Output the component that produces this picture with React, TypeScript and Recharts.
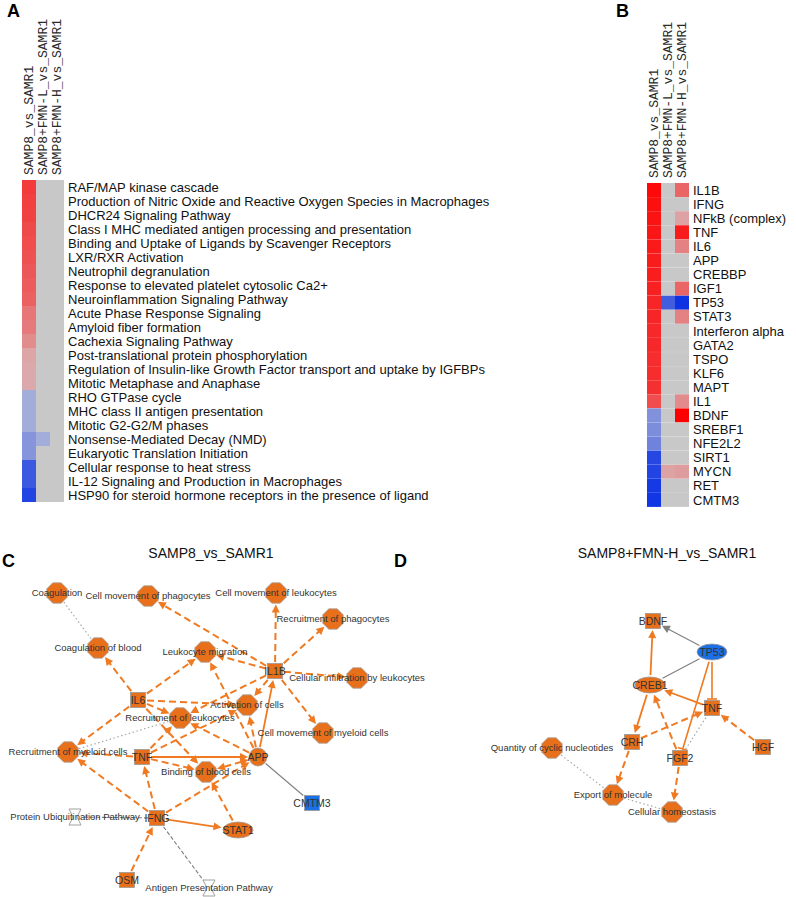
import React from 'react';
import { BarChart, Bar, XAxis, YAxis, Cell, ScatterChart, Scatter, ReferenceLine } from 'recharts';

const FONT = 'Arial, "Liberation Sans", sans-serif';
const MONO = '"Liberation Mono", "DejaVu Sans Mono", monospace';

// ---------- Panel A data ----------
const comparisons = ['SAMP8_vs_SAMR1', 'SAMP8+FMN-L_vs_SAMR1', 'SAMP8+FMN-H_vs_SAMR1'];

const pathwaysA = [
  'RAF/MAP kinase cascade',
  'Production of Nitric Oxide and Reactive Oxygen Species in Macrophages',
  'DHCR24 Signaling Pathway',
  'Class I MHC mediated antigen processing and presentation',
  'Binding and Uptake of Ligands by Scavenger Receptors',
  'LXR/RXR Activation',
  'Neutrophil degranulation',
  'Response to elevated platelet cytosolic Ca2+',
  'Neuroinflammation Signaling Pathway',
  'Acute Phase Response Signaling',
  'Amyloid fiber formation',
  'Cachexia Signaling Pathway',
  'Post-translational protein phosphorylation',
  'Regulation of Insulin-like Growth Factor transport and uptake by IGFBPs',
  'Mitotic Metaphase and Anaphase',
  'RHO GTPase cycle',
  'MHC class II antigen presentation',
  'Mitotic G2-G2/M phases',
  'Nonsense-Mediated Decay (NMD)',
  'Eukaryotic Translation Initiation',
  'Cellular response to heat stress',
  'IL-12 Signaling and Production in Macrophages',
  'HSP90 for steroid hormone receptors in the presence of ligand',
];
const zA1 = [0.68, 0.66, 0.64, 0.6, 0.58, 0.56, 0.52, 0.5, 0.48, 0.36, 0.34, 0.24, 0.1, 0.08, 0.08,
  -0.05, -0.05, -0.05, -0.22, -0.22, -0.66, -0.66, -0.8];
const zA2: (number | null)[] = [null, null, null, null, null, null, null, null, null, null, null, null, null,
  null, null, null, null, null, -0.05, null, null, null, null];
const zA3: (number | null)[] = pathwaysA.map(() => null);

// ---------- Panel B data ----------
const regulatorsB = ['IL1B', 'IFNG', 'NFkB (complex)', 'TNF', 'IL6', 'APP', 'CREBBP', 'IGF1', 'TP53', 'STAT3',
  'Interferon alpha', 'GATA2', 'TSPO', 'KLF6', 'MAPT', 'IL1', 'BDNF', 'SREBF1', 'NFE2L2', 'SIRT1', 'MYCN', 'RET', 'CMTM3'];
const zB1 = [0.95, 0.92, 0.9, 0.88, 0.86, 0.85, 0.84, 0.82, 0.8, 0.8, 0.78, 0.78, 0.76, 0.76, 0.74, 0.58,
  -0.25, -0.28, -0.35, -0.78, -0.8, -0.88, -0.9];
const zB2: (number | null)[] = [null, null, null, null, null, null, null, null, -0.62, null, null, null, null, null,
  null, null, null, null, null, null, 0.12, null, null];
const zB3: (number | null)[] = [0.45, null, 0.12, 0.85, 0.3, null, null, 0.45, -0.92, 0.3, null, null, null, null,
  null, 0.25, 1.0, null, null, null, 0.15, null, null];

// ---------- Panel C network ----------
type NodeT = { id: string; label: string; x: number; y: number; shape: string; ldx?: number };
type EdgeT = [string, string, string];

const nodesC: NodeT[] = [
  { id: 'coag', label: 'Coagulation', x: 57, y: 53, shape: 'oct' },
  { id: 'cmp', label: 'Cell movement of phagocytes', x: 148, y: 56, shape: 'oct' },
  { id: 'cml', label: 'Cell movement of leukocytes', x: 276, y: 53, shape: 'oct' },
  { id: 'rp', label: 'Recruitment of phagocytes', x: 333, y: 79, shape: 'oct' },
  { id: 'cob', label: 'Coagulation of blood', x: 98, y: 108, shape: 'oct' },
  { id: 'lm', label: 'Leukocyte migration', x: 205, y: 112, shape: 'oct' },
  { id: 'il1b', label: 'IL1B', x: 275, y: 131, shape: 'sq' },
  { id: 'ci', label: 'Cellular infiltration by leukocytes', x: 357, y: 138, shape: 'oct', ldx: 0 },
  { id: 'il6', label: 'IL6', x: 138, y: 160, shape: 'sq' },
  { id: 'ac', label: 'Activation of cells', x: 247, y: 165, shape: 'oct' },
  { id: 'rl', label: 'Recruitment of leukocytes', x: 180, y: 178, shape: 'oct' },
  { id: 'cmm', label: 'Cell movement of myeloid cells', x: 323, y: 193, shape: 'oct' },
  { id: 'rmc', label: 'Recruitment of myeloid cells', x: 68, y: 212, shape: 'oct' },
  { id: 'tnf', label: 'TNF', x: 142, y: 217, shape: 'sq' },
  { id: 'app', label: 'APP', x: 258, y: 217, shape: 'circ' },
  { id: 'bbc', label: 'Binding of blood cells', x: 206, y: 232, shape: 'oct' },
  { id: 'cmtm3', label: 'CMTM3', x: 312, y: 263, shape: 'sqb' },
  { id: 'pup', label: 'Protein Ubiquitination Pathway', x: 75, y: 277, shape: 'hg' },
  { id: 'ifng', label: 'IFNG', x: 157, y: 278, shape: 'sq' },
  { id: 'stat1', label: 'STAT1', x: 238, y: 290, shape: 'ell' },
  { id: 'osm', label: 'OSM', x: 127, y: 340, shape: 'sq' },
  { id: 'app2', label: 'Antigen Presentation Pathway', x: 209, y: 348, shape: 'hg' },
];
const edgesC: EdgeT[] = [
  ['il1b', 'cmp', 'd'], ['il1b', 'cml', 'd'], ['il1b', 'rp', 'd'], ['il1b', 'lm', 'd'], ['il1b', 'ci', 'd'],
  ['il1b', 'ac', 'd'], ['il1b', 'rl', 'd'], ['il1b', 'cmm', 'd'], ['app', 'il1b', 's'],
  ['il6', 'cob', 'd'], ['il6', 'lm', 'd'], ['il6', 'ac', 'd'], ['il6', 'rl', 'd'], ['il6', 'rmc', 'd'], ['il6', 'bbc', 'd'],
  ['coag', 'cob', 'dot'], ['rmc', 'rl', 'dot'],
  ['tnf', 'rmc', 'd'], ['tnf', 'app', 's'], ['tnf', 'rl', 'd'], ['tnf', 'ac', 'd'], ['tnf', 'bbc', 'd'],
  ['app', 'lm', 'd'], ['app', 'ac', 'd'], ['app', 'rl', 'd'], ['app', 'bbc', 'dd'], ['app', 'cmtm3', 'g'],
  ['ifng', 'tnf', 'd'], ['ifng', 'rmc', 'd'], ['ifng', 'app', 'd'], ['ifng', 'stat1', 's'],
  ['ifng', 'pup', 'gd'], ['ifng', 'app2', 'gd'], ['osm', 'ifng', 'd'], ['stat1', 'bbc', 'd'],
];

// ---------- Panel D network ----------
const nodesD: NodeT[] = [
  { id: 'bdnf', label: 'BDNF', x: 263, y: 81, shape: 'sq' },
  { id: 'tp53', label: 'TP53', x: 322, y: 112, shape: 'ellb' },
  { id: 'creb1', label: 'CREB1', x: 260, y: 145, shape: 'ell' },
  { id: 'tnf', label: 'TNF', x: 322, y: 168, shape: 'sq' },
  { id: 'hgf', label: 'HGF', x: 373, y: 207, shape: 'sq' },
  { id: 'crh', label: 'CRH', x: 242, y: 202, shape: 'sq' },
  { id: 'fgf2', label: 'FGF2', x: 290, y: 218, shape: 'sq' },
  { id: 'qcn', label: 'Quantity of cyclic nucleotides', x: 162, y: 208, shape: 'oct' },
  { id: 'eom', label: 'Export of molecule', x: 223, y: 255, shape: 'oct' },
  { id: 'ch', label: 'Cellular homeostasis', x: 282, y: 272, shape: 'oct' },
];
const edgesD: EdgeT[] = [
  ['creb1', 'bdnf', 's'], ['tp53', 'bdnf', 'ga'], ['tp53', 'creb1', 'g'], ['tp53', 'tnf', 'i'], ['tp53', 'fgf2', 'i'],
  ['tnf', 'creb1', 's'], ['creb1', 'crh', 's'], ['crh', 'tnf', 'd'], ['fgf2', 'creb1', 'd'], ['hgf', 'tnf', 'd'],
  ['crh', 'eom', 'd'], ['fgf2', 'ch', 'd'], ['fgf2', 'tnf', 'dot'], ['qcn', 'eom', 'dot'], ['eom', 'ch', 'dot'],
];

// ---------- helpers ----------
const GRAY = '#c8c8c8';
const ORANGE = '#e8701a';
const EDGE_ORANGE = '#ef7a22';
const BLUE = '#1c6fe4';

function heatColor(z: number | null): string {
  if (z === null || z === undefined) return GRAY;
  if (z >= 0) {
    const t = Math.min(1, z);
    const r = 216 + (255 - 216) * t, g = 184 * (1 - t), b = 186 * (1 - t);
    return `rgb(${Math.round(r)},${Math.round(g)},${Math.round(b)})`;
  }
  const t = Math.min(1, -z);
  const r = 172 * (1 - t), g = 180 + (40 - 180) * t, b = 216 + (228 - 216) * t;
  return `rgb(${Math.round(r)},${Math.round(g)},${Math.round(b)})`;
}

const ColTick = (props: any) => {
  const { x, y, payload } = props;
  const label = comparisons[Math.floor(payload.value)];
  const bx = x + 4;
  return (
    <text x={bx} y={y} transform={`rotate(-90 ${bx} ${y})`} textAnchor="start" fontSize={13}
      fontFamily={MONO} fill="#2a2a2a">{label}</text>
  );
};

const RowTick = (props: any) => {
  const { x, y, payload } = props;
  return (
    <text x={x} y={y} dy="0.355em" textAnchor="start" fontSize={13} fontFamily={FONT} fill="#111">
      {payload.value}
    </text>
  );
};

function Heatmap(props: {
  rows: string[]; values: (number | null)[][]; width: number; height: number; marginLeft: number;
  axisHeight: number; marginBottom: number; yAxisWidth: number;
}) {
  const { rows, values, width, height, marginLeft, axisHeight, marginBottom, yAxisWidth } = props;
  const data = rows.map((name) => ({ name, c0: 1, c1: 1, c2: 1 }));
  return (
    <BarChart width={width} height={height} data={data} layout="vertical"
      margin={{ top: 10, left: marginLeft, right: 0, bottom: marginBottom }} barCategoryGap={0} barGap={0}>
      <XAxis type="number" orientation="top" domain={[0, 3]} ticks={[0.5, 1.5, 2.5]} height={axisHeight}
        axisLine={false} tickLine={false} tickSize={0} tickMargin={5} interval={0} tick={<ColTick />} />
      <YAxis type="category" dataKey="name" orientation="right" width={yAxisWidth} axisLine={false}
        tickLine={false} tickSize={0} tickMargin={4} interval={0} tick={<RowTick />} />
      {[0, 1, 2].map((j) => (
        <Bar key={j} dataKey={'c' + j} stackId="s" isAnimationActive={false}>
          {values[j].map((v, i) => <Cell key={i} fill={heatColor(v)} />)}
        </Bar>
      ))}
    </BarChart>
  );
}

function nodeRadius(shape: string, ux: number, uy: number): number {
  switch (shape) {
    case 'oct': return 10.5;
    case 'circ': return 9;
    case 'sq':
    case 'sqb': return 8 / Math.max(Math.abs(ux), Math.abs(uy), 0.0001);
    case 'ell':
    case 'ellb': { const rx = 16, ry = 9; return 1 / Math.sqrt((ux / rx) ** 2 + (uy / ry) ** 2); }
    case 'hg': return 8;
    default: return 9;
  }
}

function makeEdgeShape(kind: string, fromShape: string, toShape: string) {
  return (p: any) => {
    const { x1, y1, x2, y2 } = p;
    const dx = x2 - x1, dy = y2 - y1;
    const len = Math.hypot(dx, dy) || 1;
    const ux = dx / len, uy = dy / len;
    const r1 = nodeRadius(fromShape, ux, uy) + 1;
    const r2 = nodeRadius(toShape, -ux, -uy) + 1;
    let sx = x1 + ux * r1, sy = y1 + uy * r1;
    let ex = x2 - ux * r2, ey = y2 - uy * r2;
    const px = -uy, py = ux;
    const isOrange = ['d', 'dd', 's', 'i'].includes(kind);
    const color = isOrange ? EDGE_ORANGE : kind === 'dot' ? '#a8a8a8' : '#7f7f7f';
    const width = kind === 'd' || kind === 'dd' ? 2 : kind === 's' ? 1.8 : kind === 'i' ? 1.6 : kind === 'dot' ? 1.2 : 1.1;
    const dash = kind === 'd' || kind === 'dd' ? '7 4' : kind === 'dot' ? '1.5 2.5' : kind === 'gd' ? '4 2' : undefined;
    const arrowEnd = ['d', 'dd', 's', 'ga'].includes(kind);
    const arrowStart = kind === 'dd';
    const AL = 8, AW = 4;
    const tipE = { x: ex, y: ey };
    const tipS = { x: sx, y: sy };
    if (arrowEnd) { ex -= ux * (AL - 1); ey -= uy * (AL - 1); }
    if (arrowStart) { sx += ux * (AL - 1); sy += uy * (AL - 1); }
    const arrow = (tx: number, ty: number, dirx: number, diry: number) => {
      const bx = tx - dirx * AL, by = ty - diry * AL;
      const ppx = -diry, ppy = dirx;
      return `${tx},${ty} ${bx + ppx * AW},${by + ppy * AW} ${bx - ppx * AW},${by - ppy * AW}`;
    };
    return (
      <g>
        <line x1={sx} y1={sy} x2={ex} y2={ey} stroke={color} strokeWidth={width} strokeDasharray={dash} />
        {arrowEnd && <polygon points={arrow(tipE.x, tipE.y, ux, uy)} fill={color} />}
        {arrowStart && <polygon points={arrow(tipS.x, tipS.y, -ux, -uy)} fill={color} />}
        {kind === 'i' && (
          <line x1={ex + px * 5} y1={ey + py * 5} x2={ex - px * 5} y2={ey - py * 5} stroke={color} strokeWidth={1.6} />
        )}
      </g>
    );
  };
}

const NodeShape = (props: any) => {
  const { cx, cy, payload } = props;
  const n: NodeT = payload;
  let body: React.ReactNode = null;
  if (n.shape === 'oct') {
    const R = 11;
    const pts = Array.from({ length: 8 }, (_, k) => {
      const a = (Math.PI / 8) + (k * Math.PI) / 4;
      return `${cx + R * Math.cos(a)},${cy + R * Math.sin(a)}`;
    }).join(' ');
    body = <polygon points={pts} fill={ORANGE} stroke="#a0a0a0" strokeWidth={0.8} />;
  } else if (n.shape === 'circ') {
    body = <circle cx={cx} cy={cy} r={9} fill={ORANGE} stroke="#a0a0a0" strokeWidth={0.8} />;
  } else if (n.shape === 'sq' || n.shape === 'sqb') {
    body = <rect x={cx - 7.5} y={cy - 7.5} width={15} height={15} fill={n.shape === 'sqb' ? BLUE : ORANGE}
      stroke="#9a9a9a" strokeWidth={0.8} />;
  } else if (n.shape === 'ell' || n.shape === 'ellb') {
    body = <ellipse cx={cx} cy={cy} rx={15} ry={8} fill={n.shape === 'ellb' ? BLUE : ORANGE}
      stroke="#9a9a9a" strokeWidth={0.8} />;
  } else if (n.shape === 'hg') {
    const pts = `${cx - 6},${cy - 8} ${cx + 6},${cy - 8} ${cx + 2},${cy} ${cx + 6},${cy + 8} ${cx - 6},${cy + 8} ${cx - 2},${cy}`;
    body = <polygon points={pts} fill="#fff" stroke="#a0a0a0" strokeWidth={1} />;
  }
  const isGene = n.shape !== 'oct' && n.shape !== 'hg';
  return (
    <g>
      {body}
      <text x={cx + (n.ldx || 0)} y={cy} dy="0.35em" textAnchor="middle" fontSize={isGene ? 10.5 : 9.5}
        fontFamily={FONT} fill="#333">{n.label}</text>
    </g>
  );
};

function Network(props: { nodes: NodeT[]; edges: EdgeT[]; width: number; height: number }) {
  const { nodes, edges, width, height } = props;
  const byId: Record<string, NodeT> = {};
  nodes.forEach((n) => { byId[n.id] = n; });
  return (
    <ScatterChart width={width} height={height} margin={{ top: 0, right: 0, bottom: 0, left: 0 }}>
      <XAxis type="number" dataKey="x" domain={[0, width]} hide />
      <YAxis type="number" dataKey="y" domain={[0, height]} reversed hide />
      {edges.map(([a, b, kind], i) => {
        const na = byId[a], nb = byId[b];
        return (
          <ReferenceLine key={i} ifOverflow="visible"
            segment={[{ x: na.x, y: na.y }, { x: nb.x, y: nb.y }]}
            shape={makeEdgeShape(kind, na.shape, nb.shape)} />
        );
      })}
      <Scatter data={nodes} isAnimationActive={false} shape={(p: any) => <NodeShape {...p} />} />
    </ScatterChart>
  );
}

const letterStyle: React.CSSProperties = {
  position: 'absolute', fontFamily: FONT, fontWeight: 'bold', fontSize: 18, lineHeight: '20px', color: '#000',
};
const titleStyle: React.CSSProperties = {
  position: 'absolute', fontFamily: FONT, fontSize: 14, lineHeight: '16px', color: '#111', textAlign: 'center', width: 260,
};

export default function App() {
  return (
    <div style={{ position: 'absolute', left: 0, top: 0, width: 796, height: 897, background: '#fff', overflow: 'hidden' }}>
      <div style={{ ...letterStyle, left: 7, top: 1 }}>A</div>
      <div style={{ ...letterStyle, left: 616, top: 1 }}>B</div>
      <div style={{ ...letterStyle, left: 2, top: 551 }}>C</div>
      <div style={{ ...letterStyle, left: 394, top: 551 }}>D</div>

      <div style={{ position: 'absolute', left: 0, top: 0 }}>
        <Heatmap rows={pathwaysA} values={[zA1, zA2, zA3]} width={600} height={510} marginLeft={22}
          axisHeight={170} marginBottom={8} yAxisWidth={536} />
      </div>
      <div style={{ position: 'absolute', left: 625, top: 0 }}>
        <Heatmap rows={regulatorsB} values={[zB1, zB2, zB3]} width={171} height={510} marginLeft={22}
          axisHeight={173} marginBottom={3} yAxisWidth={107} />
      </div>

      <div style={{ ...titleStyle, left: 81, top: 545 }}>SAMP8_vs_SAMR1</div>
      <div style={{ ...titleStyle, left: 537, top: 545 }}>SAMP8+FMN-H_vs_SAMR1</div>

      <div style={{ position: 'absolute', left: 0, top: 540 }}>
        <Network nodes={nodesC} edges={edgesC} width={430} height={357} />
      </div>
      <div style={{ position: 'absolute', left: 390, top: 540 }}>
        <Network nodes={nodesD} edges={edgesD} width={406} height={357} />
      </div>
    </div>
  );
}
